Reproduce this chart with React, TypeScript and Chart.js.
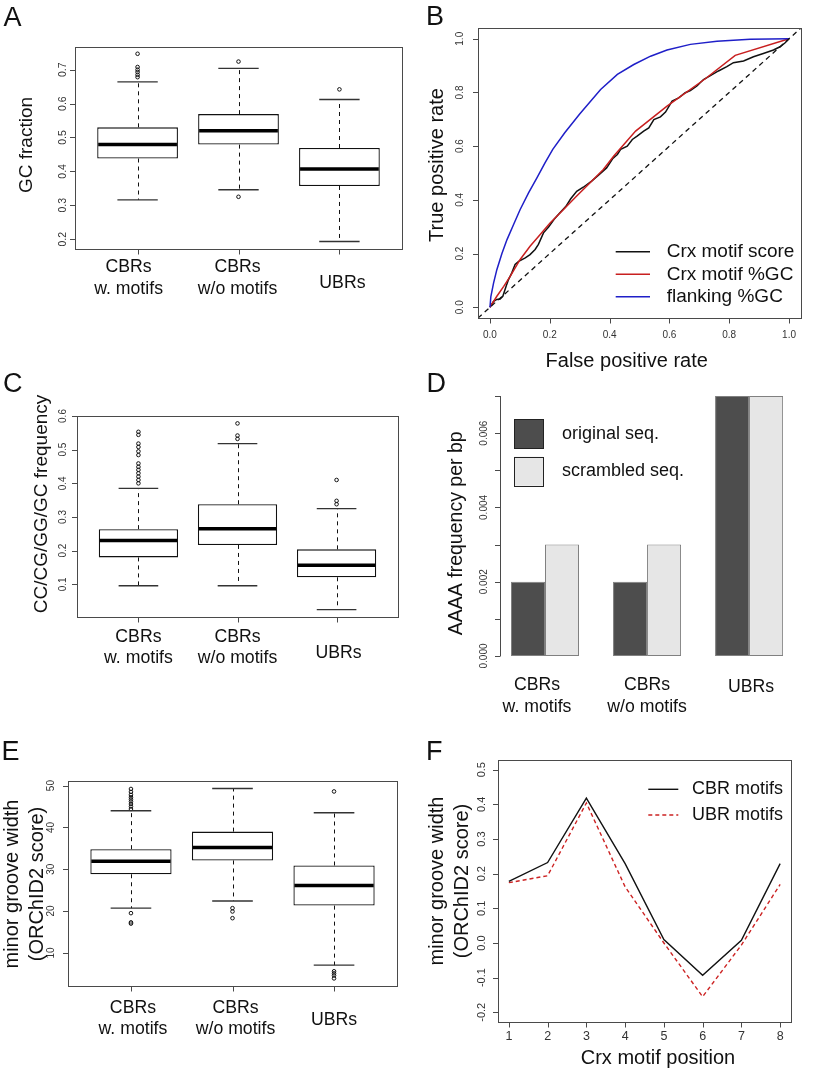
import React, { useEffect, useRef } from "react";
import { Chart, registerables } from "chart.js";

Chart.register(...registerables);

const FONT = '"Liberation Sans", Arial, Helvetica, sans-serif';
const INK = "#111111";
const FRAME = "#4a4a4a";
const TICK_TEXT = "#333333";
const CAT_SIZE = 17.7;

/* ---------------- data ---------------- */
const regionPos = [1, 2, 3];
const regionLabels: string[][] = [["CBRs", "w. motifs"], ["CBRs", "w/o motifs"], ["UBRs"]];

// A: GC fraction boxplots
const gcLow = [0.316, 0.346, 0.193];
const gcQ1 = [0.438, 0.479, 0.357];
const gcMed = [0.479, 0.52, 0.407];
const gcQ3 = [0.53, 0.569, 0.469];
const gcHigh = [0.664, 0.704, 0.612];
const gcOut = [[0.747, 0.708, 0.7, 0.693, 0.685, 0.678], [0.724, 0.325], [0.642]];
const gcTicks = [0.2, 0.3, 0.4, 0.5, 0.6, 0.7];
const gcTickLabels = ["0.2", "0.3", "0.4", "0.5", "0.6", "0.7"];

// B: ROC curves
const rocNames = ["Crx motif score", "Crx motif %GC", "flanking %GC"];
const rocScoreFpr = [0, 0.012, 0.023, 0.034, 0.043, 0.054, 0.062, 0.073, 0.084, 0.096, 0.118, 0.134, 0.151, 0.162, 0.179, 0.196, 0.214, 0.234, 0.254, 0.27, 0.29, 0.312, 0.34, 0.362, 0.39, 0.41, 0.426, 0.437, 0.459, 0.476, 0.492, 0.514, 0.531, 0.548, 0.57, 0.587, 0.609, 0.631, 0.653, 0.67, 0.692, 0.714, 0.737, 0.764, 0.792, 0.814, 0.848, 0.881, 0.914, 0.948, 0.97, 0.987, 1];
const rocScoreTpr = [0, 0.022, 0.029, 0.031, 0.041, 0.078, 0.103, 0.128, 0.159, 0.171, 0.184, 0.196, 0.215, 0.234, 0.277, 0.299, 0.327, 0.352, 0.376, 0.404, 0.432, 0.447, 0.47, 0.491, 0.519, 0.553, 0.569, 0.588, 0.6, 0.625, 0.637, 0.656, 0.668, 0.699, 0.709, 0.727, 0.768, 0.78, 0.799, 0.807, 0.824, 0.848, 0.863, 0.88, 0.896, 0.911, 0.917, 0.933, 0.945, 0.958, 0.97, 0.985, 1];
const rocMotifGcFpr = [0, 0.023, 0.046, 0.068, 0.101, 0.134, 0.168, 0.201, 0.246, 0.29, 0.334, 0.379, 0.414, 0.487, 0.592, 0.72, 0.82, 1];
const rocMotifGcTpr = [0, 0.041, 0.078, 0.116, 0.178, 0.227, 0.271, 0.314, 0.364, 0.414, 0.463, 0.513, 0.563, 0.656, 0.749, 0.851, 0.938, 1];
const rocFlankFpr = [0, 0.003, 0.012, 0.023, 0.04, 0.057, 0.079, 0.101, 0.129, 0.157, 0.184, 0.21, 0.25, 0.3, 0.37, 0.426, 0.481, 0.537, 0.592, 0.67, 0.759, 0.87, 1];
const rocFlankTpr = [0, 0.04, 0.09, 0.14, 0.2, 0.252, 0.308, 0.364, 0.426, 0.482, 0.538, 0.588, 0.65, 0.72, 0.811, 0.867, 0.904, 0.935, 0.958, 0.979, 0.991, 0.998, 1];
const rocTicks = [0, 0.2, 0.4, 0.6, 0.8, 1];
const rocTickLabels = ["0.0", "0.2", "0.4", "0.6", "0.8", "1.0"];
const rocMin = -0.04;
const rocMax = 1.04;

// C: CC/CG/GG/GC frequency boxplots
const ccLow = [0.096, 0.096, 0.025];
const ccQ1 = [0.18, 0.217, 0.121];
const ccMed = [0.23, 0.265, 0.157];
const ccQ3 = [0.264, 0.338, 0.204];
const ccHigh = [0.385, 0.518, 0.325];
const ccOut = [
  [0.553, 0.544, 0.518, 0.508, 0.495, 0.484, 0.459, 0.449, 0.44, 0.43, 0.42, 0.41, 0.4],
  [0.578, 0.542, 0.532],
  [0.41, 0.348, 0.338],
];
const ccTicks = [0.1, 0.2, 0.3, 0.4, 0.5, 0.6];
const ccTickLabels = ["0.1", "0.2", "0.3", "0.4", "0.5", "0.6"];

// D: AAAA frequency bars
const aaaaNames = ["original seq.", "scrambled seq."];
const aaaaOriginal = [0.002, 0.002, 0.007];
const aaaaScrambled = [0.003, 0.003, 0.007];
const aaaaTicks = [0, 0.001, 0.002, 0.003, 0.004, 0.005, 0.006, 0.007];
const aaaaTickLabels = ["0.000", "", "0.002", "", "0.004", "", "0.006", ""];

// E: minor groove width boxplots
const mgLow = [20.7, 22.4, 7.06];
const mgQ1 = [28.8, 32.1, 21.3];
const mgMed = [31.9, 35.2, 26.1];
const mgQ3 = [34.8, 39.0, 30.9];
const mgHigh = [44.0, 49.3, 43.5];
const mgOut = [
  [49.2, 48.5, 47.8, 47.2, 46.7, 46.2, 45.6, 45.0, 44.4, 19.5, 17.3, 17.0],
  [20.7, 19.9, 18.3],
  [48.6, 5.6, 5.1, 4.6, 3.9],
];
const mgTicks = [10, 20, 30, 40, 50];
const mgTickLabels = ["10", "20", "30", "40", "50"];

// F: minor groove width per motif position
const motifNames = ["CBR motifs", "UBR motifs"];
const motifPositions = [1, 2, 3, 4, 5, 6, 7, 8];
const cbrMgw = [0.178, 0.232, 0.418, 0.229, 0.01, -0.093, 0.008, 0.229];
const ubrMgw = [0.174, 0.194, 0.404, 0.162, 0.0, -0.155, -0.006, 0.169];
const posTickLabels = ["1", "2", "3", "4", "5", "6", "7", "8"];
const mgwTicks = [-0.2, -0.1, 0, 0.1, 0.2, 0.3, 0.4, 0.5];
const mgwTickLabels = ["-0.2", "-0.1", "0.0", "0.1", "0.2", "0.3", "0.4", "0.5"];

/* ---------------- helpers ---------------- */
type Place = { x: number; y: number; w: number; h: number };
type Area = { l: number; t: number; r: number; b: number };
type G = { ctx: CanvasRenderingContext2D; chart: any; px: (v: number) => number; py: (v: number) => number; area: Area };

const font = (s: number) => `${s}px ${FONT}`;
const crisp = (v: number) => Math.round(v) + 0.5;

function hText(ctx: CanvasRenderingContext2D, s: string, x: number, y: number, size: number, align: CanvasTextAlign = "center", baseline: CanvasTextBaseline = "alphabetic", color = INK) {
  ctx.save();
  ctx.font = font(size);
  ctx.fillStyle = color;
  ctx.textAlign = align;
  ctx.textBaseline = baseline;
  ctx.fillText(s, x, y);
  ctx.restore();
}
function vText(ctx: CanvasRenderingContext2D, s: string, x: number, y: number, size: number, baseline: CanvasTextBaseline = "alphabetic", color = INK) {
  ctx.save();
  ctx.translate(x, y);
  ctx.rotate(-Math.PI / 2);
  ctx.font = font(size);
  ctx.fillStyle = color;
  ctx.textAlign = "center";
  ctx.textBaseline = baseline;
  ctx.fillText(s, 0, 0);
  ctx.restore();
}
function seg(ctx: CanvasRenderingContext2D, x1: number, y1: number, x2: number, y2: number, color: string, width = 1, dash: number[] = []) {
  ctx.save();
  ctx.strokeStyle = color;
  ctx.lineWidth = width;
  ctx.setLineDash(dash);
  ctx.beginPath();
  ctx.moveTo(x1, y1);
  ctx.lineTo(x2, y2);
  ctx.stroke();
  ctx.restore();
}
function frame(g: G) {
  const a = g.area;
  g.ctx.save();
  g.ctx.strokeStyle = FRAME;
  g.ctx.lineWidth = 1;
  g.ctx.strokeRect(crisp(a.l), crisp(a.t), Math.round(a.r) - Math.round(a.l), Math.round(a.b) - Math.round(a.t));
  g.ctx.restore();
}
function yAxis(g: G, ticks: number[], labels: string[], labelX: number, size: number) {
  const x0 = Math.round(g.area.l);
  ticks.forEach((v, i) => {
    const y = crisp(g.py(v));
    seg(g.ctx, x0 - 5, y, x0 + 0.5, y, FRAME);
    if (labels[i]) vText(g.ctx, labels[i], labelX, g.py(v), size, "middle", TICK_TEXT);
  });
}
function xAxis(g: G, ticks: number[], labels: string[] | null, labelY: number, size: number) {
  const y0 = Math.round(g.area.b);
  ticks.forEach((v, i) => {
    const x = crisp(g.px(v));
    seg(g.ctx, x, y0 + 0.5, x, y0 + 5.5, FRAME);
    if (labels && labels[i]) hText(g.ctx, labels[i], g.px(v), labelY, size, "center", "middle", TICK_TEXT);
  });
}
function catLabels(g: G, shifts: number[], b1: number, b2: number, bSingle: number, size: number) {
  regionLabels.forEach((lines, i) => {
    const x = g.px(regionPos[i]) + shifts[i];
    if (lines.length === 2) {
      hText(g.ctx, lines[0], x, b1, size);
      hText(g.ctx, lines[1], x, b2, size);
    } else {
      hText(g.ctx, lines[0], x, bSingle, size);
    }
  });
}
function lineLegend(g: G, names: string[], x1: number, x2: number, textX: number, rows: number[], size: number) {
  names.forEach((name, i) => {
    const ds = g.chart.data.datasets.find((d: any) => d.label === name);
    if (!ds) return;
    seg(g.ctx, x1, rows[i], x2, rows[i], ds.borderColor, ds.borderWidth || 1, ds.borderDash || []);
    hText(g.ctx, name, textX, rows[i], size, "left", "middle", INK);
  });
}

function pad(p: Place, a: Area) {
  return { left: a.l - p.x, top: a.t - p.y, right: p.x + p.w - a.r, bottom: p.y + p.h - a.b };
}

function decor(place: Place, draw: (g: G) => void) {
  return {
    id: "decor",
    afterDraw(chart: any) {
      const ctx = chart.ctx as CanvasRenderingContext2D;
      const xs = chart.scales.x;
      const ys = chart.scales.y;
      const a = chart.chartArea;
      ctx.save();
      ctx.translate(-place.x, -place.y);
      draw({
        ctx,
        chart,
        px: (v: number) => xs.getPixelForValue(v) + place.x,
        py: (v: number) => ys.getPixelForValue(v) + place.y,
        area: { l: a.left + place.x, t: a.top + place.y, r: a.right + place.x, b: a.bottom + place.y },
      });
      ctx.restore();
    },
  };
}

type BoxStats = { low: number[]; q1: number[]; med: number[]; q3: number[]; high: number[]; out: number[][] };

function whiskerPlugin(st: BoxStats) {
  return {
    id: "whiskers",
    afterDatasetsDraw(chart: any) {
      const ctx = chart.ctx as CanvasRenderingContext2D;
      const xs = chart.scales.x;
      const ys = chart.scales.y;
      regionPos.forEach((g, i) => {
        const x = crisp(xs.getPixelForValue(g));
        const capL = xs.getPixelForValue(g - 0.2);
        const capR = xs.getPixelForValue(g + 0.2);
        const boxL = xs.getPixelForValue(g - 0.4);
        const boxR = xs.getPixelForValue(g + 0.4);
        seg(ctx, x, ys.getPixelForValue(st.q3[i]), x, ys.getPixelForValue(st.high[i]), INK, 1, [4, 4]);
        seg(ctx, x, ys.getPixelForValue(st.q1[i]), x, ys.getPixelForValue(st.low[i]), INK, 1, [4, 4]);
        seg(ctx, capL, ys.getPixelForValue(st.high[i]), capR, ys.getPixelForValue(st.high[i]), "#333", 1.4);
        seg(ctx, capL, ys.getPixelForValue(st.low[i]), capR, ys.getPixelForValue(st.low[i]), "#333", 1.4);
        seg(ctx, boxL + 1, ys.getPixelForValue(st.med[i]), boxR - 1, ys.getPixelForValue(st.med[i]), "#000", 3.5);
      });
    },
  };
}

const baseOptions = (p: any) => ({
  responsive: false,
  animation: false,
  events: [],
  devicePixelRatio: 1,
  layout: { padding: p },
  plugins: { legend: { display: false }, tooltip: { enabled: false }, title: { display: false } },
});

const setTicks = (vals: number[]) => (s: any) => {
  s.ticks = vals.map((v) => ({ value: v }));
};

function boxConfig(st: BoxStats, yMin: number, yMax: number, place: Place, area: Area, draw: (g: G) => void) {
  return {
    type: "bar",
    data: {
      datasets: [
        {
          type: "scatter",
          label: "outliers",
          data: regionPos.flatMap((x, i) => st.out[i].map((y) => ({ x, y }))),
          pointRadius: 1.8,
          pointBorderWidth: 1,
          pointBorderColor: INK,
          pointBackgroundColor: "rgba(0,0,0,0)",
          borderColor: INK,
          showLine: false,
        },
        {
          type: "bar",
          label: "box",
          data: regionPos.map((x, i) => ({ x, y: [st.q1[i], st.q3[i]] })),
          backgroundColor: "#ffffff",
          borderColor: INK,
          borderWidth: 1.3,
          borderSkipped: false,
          categoryPercentage: 1,
          barPercentage: 0.8,
        },
      ],
    },
    options: {
      ...baseOptions(pad(place, area)),
      scales: {
        x: { type: "linear", min: 0.38, max: 3.62, display: false, offset: false, afterBuildTicks: setTicks(regionPos) },
        y: { type: "linear", min: yMin, max: yMax, display: false },
      },
    },
    plugins: [whiskerPlugin(st), decor(place, draw)],
  };
}

const xy = (xs: number[], ys: number[]) => xs.map((x, i) => ({ x, y: ys[i] }));

/* ---------------- panels ---------------- */
const placeA: Place = { x: 0, y: 0, w: 410, h: 340 };
const areaA: Area = { l: 75, t: 47, r: 402, b: 249 };
const placeB: Place = { x: 410, y: 0, w: 407, h: 375 };
const areaB: Area = { l: 478, t: 28, r: 801, b: 318 };
const placeC: Place = { x: 0, y: 340, w: 410, h: 370 };
const areaC: Area = { l: 77, t: 416, r: 398, b: 617 };
const placeD: Place = { x: 410, y: 368, w: 407, h: 352 };
const areaD: Area = { l: 500, t: 396, r: 795, b: 656 };
const placeE: Place = { x: 0, y: 710, w: 410, h: 359 };
const areaE: Area = { l: 68, t: 781, r: 397, b: 986 };
const placeF: Place = { x: 410, y: 720, w: 407, h: 349 };
const areaF: Area = { l: 498, t: 760, r: 791, b: 1022 };

function configA() {
  return boxConfig({ low: gcLow, q1: gcQ1, med: gcMed, q3: gcQ3, high: gcHigh, out: gcOut }, 0.171, 0.767, placeA, areaA, (g) => {
    frame(g);
    yAxis(g, gcTicks, gcTickLabels, 63, 10.5);
    xAxis(g, regionPos, null, 0, 10);
    catLabels(g, [-9, -1, 3], 271.5, 293.5, 287.5, CAT_SIZE);
    hText(g.ctx, "A", 3.5, 26, 27, "left");
    vText(g.ctx, "GC fraction", 31.5, 145, 19);
  });
}

function configB() {
  return {
    type: "scatter",
    data: {
      datasets: [
        { label: "diagonal", data: [{ x: rocMin, y: rocMin }, { x: rocMax, y: rocMax }], borderColor: INK, borderWidth: 1.3, borderDash: [5, 4], showLine: true, pointRadius: 0 },
        { label: rocNames[2], data: xy(rocFlankFpr, rocFlankTpr), borderColor: "#1f1fc8", borderWidth: 1.5, showLine: true, pointRadius: 0 },
        { label: rocNames[1], data: xy(rocMotifGcFpr, rocMotifGcTpr), borderColor: "#c81f1f", borderWidth: 1.5, showLine: true, pointRadius: 0 },
        { label: rocNames[0], data: xy(rocScoreFpr, rocScoreTpr), borderColor: INK, borderWidth: 1.5, showLine: true, pointRadius: 0 },
      ],
    },
    options: {
      ...baseOptions(pad(placeB, areaB)),
      scales: {
        x: { type: "linear", min: rocMin, max: rocMax, display: false },
        y: { type: "linear", min: rocMin, max: rocMax, display: false },
      },
    },
    plugins: [
      decor(placeB, (g) => {
        frame(g);
        yAxis(g, rocTicks, rocTickLabels, 460, 10);
        xAxis(g, rocTicks, rocTickLabels, 335, 10);
        hText(g.ctx, "B", 426, 25, 27, "left");
        vText(g.ctx, "True positive rate", 443, 165, 20);
        hText(g.ctx, "False positive rate", 626.7, 367, 20);
        lineLegend(g, rocNames, 615.7, 650, 666.7, [251.7, 274.3, 296.7], 19);
      }),
    ],
  };
}

function configC() {
  return boxConfig({ low: ccLow, q1: ccQ1, med: ccMed, q3: ccQ3, high: ccHigh, out: ccOut }, 0.003, 0.6, placeC, areaC, (g) => {
    frame(g);
    yAxis(g, ccTicks, ccTickLabels, 63.3, 10);
    xAxis(g, regionPos, null, 0, 10);
    catLabels(g, [0, 0, 2], 641.5, 663.3, 658.3, CAT_SIZE);
    hText(g.ctx, "C", 3, 391.7, 27, "left");
    vText(g.ctx, "CC/CG/GG/GC frequency", 46.7, 504, 19);
  });
}

function configD() {
  return {
    type: "bar",
    data: {
      datasets: [
        { label: aaaaNames[0], data: xy(regionPos, aaaaOriginal), backgroundColor: "#4d4d4d", borderColor: "#808080", borderWidth: 1, borderSkipped: false, categoryPercentage: 2 / 3, barPercentage: 1 },
        { label: aaaaNames[1], data: xy(regionPos, aaaaScrambled), backgroundColor: "#e6e6e6", borderColor: "#808080", borderWidth: 1, borderSkipped: false, categoryPercentage: 2 / 3, barPercentage: 1 },
      ],
    },
    options: {
      ...baseOptions(pad(placeD, areaD)),
      scales: {
        x: { type: "linear", min: 0.559, max: 3.45, display: false, offset: false, afterBuildTicks: setTicks(regionPos) },
        y: { type: "linear", min: 0, max: 0.007, display: false },
      },
    },
    plugins: [
      decor(placeD, (g) => {
        const x0 = crisp(g.area.l);
        seg(g.ctx, x0, g.py(0), x0, g.py(0.007), FRAME);
        aaaaTicks.forEach((v, i) => {
          const y = crisp(g.py(v));
          seg(g.ctx, x0 - 5.5, y, x0, y, FRAME);
          if (aaaaTickLabels[i]) vText(g.ctx, aaaaTickLabels[i], 484.3, g.py(v), 10, "middle", TICK_TEXT);
        });
        catLabels(g, [-8, 0, 2], 690, 712, 692, CAT_SIZE);
        hText(g.ctx, "D", 426.5, 391.7, 27, "left");
        vText(g.ctx, "AAAA frequency per bp", 461.5, 533.3, 19.5);
        const ds = g.chart.data.datasets;
        [433.7, 471.2].forEach((cy, i) => {
          g.ctx.save();
          g.ctx.fillStyle = ds[i].backgroundColor;
          g.ctx.fillRect(514, cy - 14.5, 29, 29);
          g.ctx.strokeStyle = "#222";
          g.ctx.lineWidth = 1;
          g.ctx.strokeRect(514.5, Math.round(cy - 14.5) + 0.5, 29, 29);
          g.ctx.restore();
          hText(g.ctx, ds[i].label, 562, cy, 18, "left", "middle");
        });
      }),
    ],
  };
}

function configE() {
  return boxConfig({ low: mgLow, q1: mgQ1, med: mgMed, q3: mgQ3, high: mgHigh, out: mgOut }, 2.08, 51.1, placeE, areaE, (g) => {
    frame(g);
    yAxis(g, mgTicks, mgTickLabels, 51.7, 10);
    xAxis(g, regionPos, null, 0, 10);
    catLabels(g, [2, 3, 0], 1013.3, 1034.3, 1025, CAT_SIZE);
    hText(g.ctx, "E", 1.5, 760, 27, "left");
    vText(g.ctx, "minor groove width", 18.3, 884, 20);
    vText(g.ctx, "(ORChID2 score)", 43.3, 884, 20);
  });
}

function configF() {
  return {
    type: "scatter",
    data: {
      datasets: [
        { label: motifNames[0], data: xy(motifPositions, cbrMgw), borderColor: INK, borderWidth: 1.4, showLine: true, pointRadius: 0 },
        { label: motifNames[1], data: xy(motifPositions, ubrMgw), borderColor: "#cc2222", borderWidth: 1.4, borderDash: [4, 3], showLine: true, pointRadius: 0 },
      ],
    },
    options: {
      ...baseOptions(pad(placeF, areaF)),
      scales: {
        x: { type: "linear", min: 0.72, max: 8.28, display: false },
        y: { type: "linear", min: -0.228, max: 0.528, display: false },
      },
    },
    plugins: [
      decor(placeF, (g) => {
        frame(g);
        yAxis(g, mgwTicks, mgwTickLabels, 481.7, 11);
        xAxis(g, motifPositions, posTickLabels, 1036.7, 12.5);
        hText(g.ctx, "F", 426, 760, 27, "left");
        vText(g.ctx, "minor groove width", 443.3, 881, 20);
        vText(g.ctx, "(ORChID2 score)", 468.3, 881, 20);
        hText(g.ctx, "Crx motif position", 658, 1064, 20);
        lineLegend(g, motifNames, 648.3, 678.3, 692, [789.3, 815], 18);
      }),
    ],
  };
}

function ChartPanel({ place, make }: { place: Place; make: () => any }) {
  const ref = useRef<HTMLCanvasElement>(null);
  useEffect(() => {
    if (!ref.current) return;
    const chart = new Chart(ref.current, make());
    return () => chart.destroy();
  }, []);
  return (
    <canvas
      ref={ref}
      width={place.w}
      height={place.h}
      style={{ position: "absolute", left: place.x, top: place.y, width: place.w, height: place.h }}
    />
  );
}

export default function App() {
  return (
    <div style={{ position: "absolute", left: 0, top: 0, width: 817, height: 1069, background: "#ffffff", overflow: "hidden" }}>
      <ChartPanel place={placeA} make={configA} />
      <ChartPanel place={placeB} make={configB} />
      <ChartPanel place={placeC} make={configC} />
      <ChartPanel place={placeD} make={configD} />
      <ChartPanel place={placeE} make={configE} />
      <ChartPanel place={placeF} make={configF} />
    </div>
  );
}
